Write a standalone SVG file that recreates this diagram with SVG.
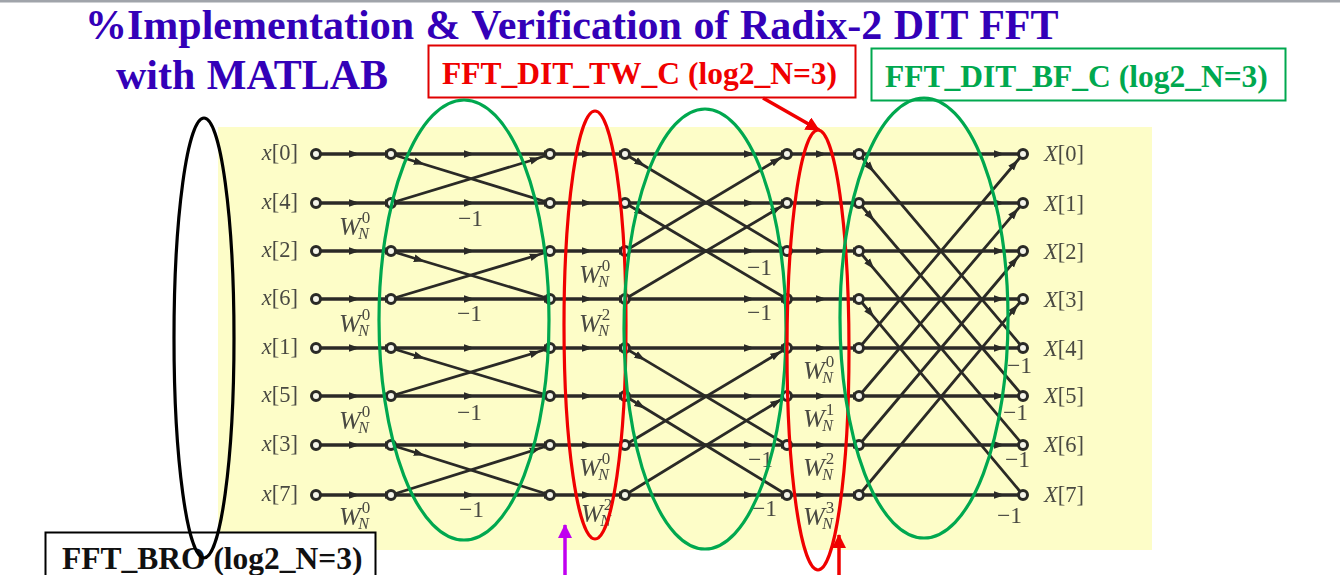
<svg xmlns="http://www.w3.org/2000/svg" width="1340" height="575" viewBox="0 0 1340 575">
<style>
text{font-family:"Liberation Serif","Times New Roman",serif}
.title{font-size:42px;font-weight:700;fill:#3300b8;word-spacing:1px}
.box{font-size:31.500px;font-weight:700}
.lab{font-size:22.500px;fill:#4a4a42}
.m{font-size:23.500px;fill:#4a4a42}
.w{font-size:26px;font-style:italic;fill:#4a4a42}
.sup{font-size:17px;font-style:normal;fill:#4a4a42}
.sub{font-size:16px;font-style:italic;fill:#4a4a42}
.h{stroke:#2b2a26;stroke-width:3.600;fill:none;marker-mid:url(#a)}
.d{stroke:#2b2a26;stroke-width:2.800;fill:none;marker-mid:url(#a)}
.n{fill:#f4f4ea;stroke:#2b2a26;stroke-width:3}
.e{fill:none;stroke-width:3.200}
</style>
<defs>
<filter id="soft" x="-2%" y="-2%" width="104%" height="104%"><feGaussianBlur stdDeviation="0.45"/></filter>
<marker id="a" markerUnits="userSpaceOnUse" markerWidth="14" markerHeight="10" refX="6" refY="5" orient="auto"><path d="M0 1.200L11 5L0 8.800Z" fill="#2b2a26"/></marker>
<marker id="r" markerUnits="userSpaceOnUse" markerWidth="16" markerHeight="16" refX="13" refY="7" orient="auto"><path d="M0 0L14 7L0 14Z" fill="#f00000"/></marker>
<marker id="p" markerUnits="userSpaceOnUse" markerWidth="16" markerHeight="16" refX="13" refY="7" orient="auto"><path d="M0 0L14 7L0 14Z" fill="#c000f0"/></marker>
</defs>
<rect id="top-strip" x="0" y="0" width="1340" height="2.500" fill="#a0a4aa"/>
<rect id="background" x="218" y="127" width="934" height="423" fill="#fdfdc8"/>
<g id="connectors" filter="url(#soft)">
<path class="h" d="M316 154H355H391H470H550H588H625H750H787H822H859H1000H1023"/>
<path class="h" d="M316 203H355H391H470H550H588H625H750H787H822H859H1000H1023"/>
<path class="h" d="M316 251H355H391H470H550H588H625H750H787H822H859H1000H1023"/>
<path class="h" d="M316 299H355H391H470H550H588H625H750H787H822H859H1000H1023"/>
<path class="h" d="M316 348H355H391H470H550H588H625H750H787H822H859H1000H1023"/>
<path class="h" d="M316 396H355H391H470H550H588H625H750H787H822H859H1000H1023"/>
<path class="h" d="M316 445H355H391H470H550H588H625H750H787H822H859H1000H1023"/>
<path class="h" d="M316 495H355H391H470H550H588H625H750H787H822H859H1000H1023"/>
<path class="d" d="M391 154L420 163L550 203"/><path class="d" d="M391 203L536 159L550 154"/>
<path class="d" d="M391 251L420 260L550 299"/><path class="d" d="M391 299L536 255.500L550 251"/>
<path class="d" d="M391 348L420 357L550 396"/><path class="d" d="M391 396L536 352.500L550 348"/>
<path class="d" d="M391 445L420 454L550 495"/><path class="d" d="M391 495L536 449.500L550 445"/>
<path class="d" d="M625 154L641 163.700L787 251"/><path class="d" d="M625 203L641 212.500L787 299"/>
<path class="d" d="M625 251L777 160L787 154"/><path class="d" d="M625 299L777 209L787 203"/>
<path class="d" d="M625 348L641 357.600L787 445"/><path class="d" d="M625 396L641 405.800L787 495"/>
<path class="d" d="M625 445L777 354L787 348"/><path class="d" d="M625 495L777 402L787 396"/>
<path class="d" d="M859 154L871 168.400L1023 348"/><path class="d" d="M859 203L871 217L1023 396"/>
<path class="d" d="M859 251L871 265.400L1023 445"/><path class="d" d="M859 299L871 313.600L1023 495"/>
<path class="d" d="M859 348L1015 163.500L1023 154"/><path class="d" d="M859 396L1015 212.400L1023 203"/>
<path class="d" d="M859 445L1015 260.500L1023 251"/><path class="d" d="M859 495L1015 308.100L1023 299"/>
</g>
<g id="nodes" filter="url(#soft)">
<g id="col0"><circle class="n" cx="316" cy="154" r="4.500"/><circle class="n" cx="316" cy="203" r="4.500"/><circle class="n" cx="316" cy="251" r="4.500"/><circle class="n" cx="316" cy="299" r="4.500"/><circle class="n" cx="316" cy="348" r="4.500"/><circle class="n" cx="316" cy="396" r="4.500"/><circle class="n" cx="316" cy="445" r="4.500"/><circle class="n" cx="316" cy="495" r="4.500"/></g>
<g id="col1"><circle class="n" cx="391" cy="154" r="4.500"/><circle class="n" cx="391" cy="203" r="4.500"/><circle class="n" cx="391" cy="251" r="4.500"/><circle class="n" cx="391" cy="299" r="4.500"/><circle class="n" cx="391" cy="348" r="4.500"/><circle class="n" cx="391" cy="396" r="4.500"/><circle class="n" cx="391" cy="445" r="4.500"/><circle class="n" cx="391" cy="495" r="4.500"/></g>
<g id="col2"><circle class="n" cx="550" cy="154" r="4.500"/><circle class="n" cx="550" cy="203" r="4.500"/><circle class="n" cx="550" cy="251" r="4.500"/><circle class="n" cx="550" cy="299" r="4.500"/><circle class="n" cx="550" cy="348" r="4.500"/><circle class="n" cx="550" cy="396" r="4.500"/><circle class="n" cx="550" cy="445" r="4.500"/><circle class="n" cx="550" cy="495" r="4.500"/></g>
<g id="col3"><circle class="n" cx="625" cy="154" r="4.500"/><circle class="n" cx="625" cy="203" r="4.500"/><circle class="n" cx="625" cy="251" r="4.500"/><circle class="n" cx="625" cy="299" r="4.500"/><circle class="n" cx="625" cy="348" r="4.500"/><circle class="n" cx="625" cy="396" r="4.500"/><circle class="n" cx="625" cy="445" r="4.500"/><circle class="n" cx="625" cy="495" r="4.500"/></g>
<g id="col4"><circle class="n" cx="787" cy="154" r="4.500"/><circle class="n" cx="787" cy="203" r="4.500"/><circle class="n" cx="787" cy="251" r="4.500"/><circle class="n" cx="787" cy="299" r="4.500"/><circle class="n" cx="787" cy="348" r="4.500"/><circle class="n" cx="787" cy="396" r="4.500"/><circle class="n" cx="787" cy="445" r="4.500"/><circle class="n" cx="787" cy="495" r="4.500"/></g>
<g id="col5"><circle class="n" cx="859" cy="154" r="4.500"/><circle class="n" cx="859" cy="203" r="4.500"/><circle class="n" cx="859" cy="251" r="4.500"/><circle class="n" cx="859" cy="299" r="4.500"/><circle class="n" cx="859" cy="348" r="4.500"/><circle class="n" cx="859" cy="396" r="4.500"/><circle class="n" cx="859" cy="445" r="4.500"/><circle class="n" cx="859" cy="495" r="4.500"/></g>
<g id="col6"><circle class="n" cx="1023" cy="154" r="4.500"/><circle class="n" cx="1023" cy="203" r="4.500"/><circle class="n" cx="1023" cy="251" r="4.500"/><circle class="n" cx="1023" cy="299" r="4.500"/><circle class="n" cx="1023" cy="348" r="4.500"/><circle class="n" cx="1023" cy="396" r="4.500"/><circle class="n" cx="1023" cy="445" r="4.500"/><circle class="n" cx="1023" cy="495" r="4.500"/></g>
</g>
<g id="labels" filter="url(#soft)">
<g class="lab" text-anchor="end">
<text x="298" y="160"><tspan font-style="italic">x</tspan>[0]</text><text x="298" y="209"><tspan font-style="italic">x</tspan>[4]</text><text x="298" y="257"><tspan font-style="italic">x</tspan>[2]</text><text x="298" y="305"><tspan font-style="italic">x</tspan>[6]</text><text x="298" y="354"><tspan font-style="italic">x</tspan>[1]</text><text x="298" y="402"><tspan font-style="italic">x</tspan>[5]</text><text x="298" y="451"><tspan font-style="italic">x</tspan>[3]</text><text x="298" y="501"><tspan font-style="italic">x</tspan>[7]</text>
</g>
<g class="lab">
<text x="1044" y="161"><tspan font-style="italic">X</tspan>[0]</text><text x="1044" y="211"><tspan font-style="italic">X</tspan>[1]</text><text x="1044" y="259"><tspan font-style="italic">X</tspan>[2]</text><text x="1044" y="307"><tspan font-style="italic">X</tspan>[3]</text><text x="1044" y="356"><tspan font-style="italic">X</tspan>[4]</text><text x="1044" y="403"><tspan font-style="italic">X</tspan>[5]</text><text x="1044" y="452"><tspan font-style="italic">X</tspan>[6]</text><text x="1044" y="502"><tspan font-style="italic">X</tspan>[7]</text>
</g>
<g class="m">
<text x="458" y="226">−1</text><text x="457" y="321">−1</text><text x="457" y="420">−1</text><text x="459" y="517">−1</text>
<text x="747" y="275">−1</text><text x="747" y="320">−1</text><text x="748" y="467">−1</text><text x="752" y="516">−1</text>
<text x="1007" y="373">−1</text><text x="1003" y="420">−1</text><text x="1005" y="467">−1</text><text x="997" y="523">−1</text>
</g>
<g>
<text class="w" x="339" y="235">W<tspan class="sup" dx="1" dy="-12">0</tspan><tspan class="sub" dx="-12" dy="16">N</tspan></text>
<text class="w" x="339" y="332">W<tspan class="sup" dx="1" dy="-12">0</tspan><tspan class="sub" dx="-12" dy="16">N</tspan></text>
<text class="w" x="339" y="429">W<tspan class="sup" dx="1" dy="-12">0</tspan><tspan class="sub" dx="-12" dy="16">N</tspan></text>
<text class="w" x="339" y="525">W<tspan class="sup" dx="1" dy="-12">0</tspan><tspan class="sub" dx="-12" dy="16">N</tspan></text>
<text class="w" x="579" y="283">W<tspan class="sup" dx="1" dy="-12">0</tspan><tspan class="sub" dx="-12" dy="16">N</tspan></text>
<text class="w" x="579" y="332">W<tspan class="sup" dx="1" dy="-12">2</tspan><tspan class="sub" dx="-12" dy="16">N</tspan></text>
<text class="w" x="579" y="476">W<tspan class="sup" dx="1" dy="-12">0</tspan><tspan class="sub" dx="-12" dy="16">N</tspan></text>
<text class="w" x="581" y="522">W<tspan class="sup" dx="1" dy="-12">2</tspan><tspan class="sub" dx="-12" dy="16">N</tspan></text>
<text class="w" x="803" y="379">W<tspan class="sup" dx="1" dy="-12">0</tspan><tspan class="sub" dx="-12" dy="16">N</tspan></text>
<text class="w" x="803" y="427">W<tspan class="sup" dx="1" dy="-12">1</tspan><tspan class="sub" dx="-12" dy="16">N</tspan></text>
<text class="w" x="803" y="476">W<tspan class="sup" dx="1" dy="-12">2</tspan><tspan class="sub" dx="-12" dy="16">N</tspan></text>
<text class="w" x="803" y="525">W<tspan class="sup" dx="1" dy="-12">3</tspan><tspan class="sub" dx="-12" dy="16">N</tspan></text>
</g>
</g>
<g id="title">
<text class="title" x="85" y="39">%Implementation &amp; Verification of Radix-2 DIT FFT</text>
<text class="title" x="116" y="89">with MATLAB</text>
</g>
<g id="tw-box"><rect x="428.500" y="45.500" width="427" height="52" fill="#fff" stroke="#e00000" stroke-width="2"/><text class="box" x="442" y="84" fill="#f00000">FFT_DIT_TW_C (log2_N=3)</text></g>
<g id="bf-box"><rect x="871.500" y="48.500" width="414" height="52" fill="#fff" stroke="#00a84f" stroke-width="2"/><text class="box" x="885" y="87" fill="#00a84f">FFT_DIT_BF_C (log2_N=3)</text></g>
<g id="bro-box"><rect x="45.500" y="532.500" width="330" height="50" fill="#fff" stroke="#000" stroke-width="2"/><text class="box" x="62" y="569" fill="#111">FFT_BRO (log2_N=3)</text></g>
<g id="groups">
<ellipse id="bro-ellipse" class="e" stroke="#000" stroke-width="3.600" cx="204" cy="338" rx="30" ry="220"/>
<ellipse id="bf1" class="e" stroke="#00a84f" cx="464" cy="320" rx="85" ry="220"/>
<ellipse id="tw1" class="e" stroke="#f00000" cx="595" cy="325" rx="31" ry="214"/>
<ellipse id="bf2" class="e" stroke="#00a84f" cx="705" cy="329" rx="81" ry="220"/>
<ellipse id="tw2" class="e" stroke="#f00000" cx="818" cy="350" rx="31" ry="220"/>
<ellipse id="bf3" class="e" stroke="#00a84f" cx="924" cy="318" rx="84" ry="220"/>
</g>
<g id="pointers">
<path d="M763 98L819 130" stroke="#f00000" stroke-width="3.500" fill="none" marker-end="url(#r)"/>
<path d="M839 575V535" stroke="#f00000" stroke-width="3.500" fill="none" marker-end="url(#r)"/>
<path d="M565 575V525" stroke="#c000f0" stroke-width="3.500" fill="none" marker-end="url(#p)"/>
</g>
</svg>
